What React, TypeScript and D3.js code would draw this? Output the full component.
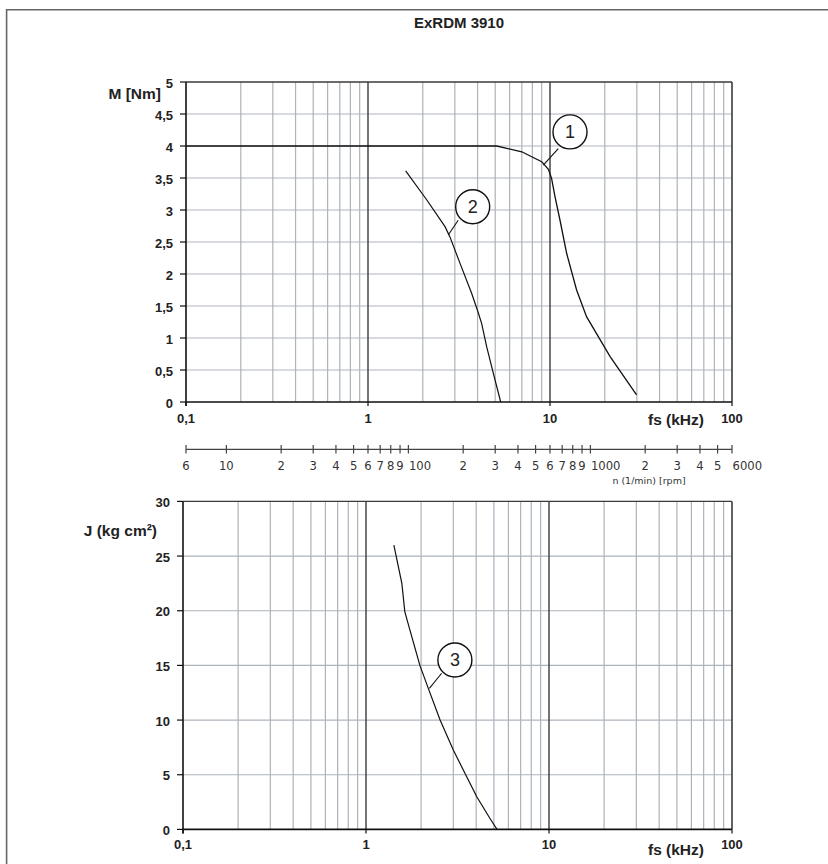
import React from "react";
import * as d3 from "d3";

// ---- data ----
const title = "ExRDM 3910";
const mTicks = [0, 0.5, 1, 1.5, 2, 2.5, 3, 3.5, 4, 4.5, 5];
const mTickLabels = ["0", "0,5", "1", "1,5", "2", "2,5", "3", "3,5", "4", "4,5", "5"];
const jTicks = [0, 5, 10, 15, 20, 25, 30];
const fsTicks = [0.1, 1, 10, 100];
const fsTickLabels = ["0,1", "1", "10", "100"];
const fsMinor = [0.2, 0.3, 0.4, 0.5, 0.6, 0.7, 0.8, 0.9, 2, 3, 4, 5, 6, 7, 8, 9, 20, 30, 40, 50, 60, 70, 80, 90];
const rpmValues = [6, 10, 20, 30, 40, 50, 60, 70, 80, 90, 100, 200, 300, 400, 500, 600, 700, 800, 900, 1000, 2000, 3000, 4000, 5000, 6000];
const rpmLabels = ["6", "10", "2", "3", "4", "5", "6", "7", "8", "9", "100", "2", "3", "4", "5", "6", "7", "8", "9", "1000", "2", "3", "4", "5", "6000"];

// curve 1 (pull-out torque)
const fs1 = [0.1, 5.1, 7.0, 9.0, 9.8, 10.2, 10.65, 11.35, 12.35, 14.0, 15.9, 21.4, 29.9];
const m1 = [4, 4, 3.91, 3.755, 3.636, 3.495, 3.21, 2.84, 2.32, 1.75, 1.33, 0.71, 0.11];
// curve 2 (pull-in torque)
const fs2 = [1.61, 2.1, 2.65, 2.82, 3.2, 3.71, 4.04, 4.21, 4.49, 4.88, 5.36];
const m2 = [3.61, 3.16, 2.74, 2.58, 2.17, 1.7, 1.39, 1.23, 0.86, 0.45, 0];
// curve 3 (load inertia)
const fs3 = [1.42, 1.57, 1.63, 1.74, 1.97, 2.19, 2.54, 3.0, 3.55, 4.03, 4.76, 5.2];
const j3 = [26.0, 22.5, 19.9, 18.2, 15.0, 12.9, 10.0, 7.26, 4.82, 2.99, 1.0, 0];

// callouts: label, circle centre (fs, value), leader start, leader end
const callLabels = ["1", "2", "3"];
const callCenter = [[12.88, 4.22], [3.76, 3.05], [3.06, 15.5]];
const callFrom = [[11.1, 3.96], [3.13, 2.84], [2.59, 14.28]];
const callTo = [[9.19, 3.7], [2.76, 2.61], [2.22, 12.9]];

export default function App() {
  const xTop = d3.scaleLog().domain([0.1, 100]).range([186, 732]);
  const yTop = d3.scaleLinear().domain([0, 5]).range([402, 82]);
  const xBot = d3.scaleLog().domain([0.1, 100]).range([183, 732]);
  const yBot = d3.scaleLinear().domain([0, 30]).range([829.4, 501.4]);
  const xRpm = d3.scaleLog().domain([6, 6000]).range([186, 732]);

  const grid = "#adb3bb";
  const dark = "#3a3a3a";
  const bold = "'Liberation Sans', Arial, sans-serif";

  const line = (xs: number[], ys: number[], xs_: any, ys_: any) =>
    d3.line<number>().x((_, i) => xs_(xs[i])).y((_, i) => ys_(ys[i]))(xs.map((_, i) => i)) || "";

  const panel = (
    x: any,
    y: any,
    yTicks: number[],
    yLabels: string[],
    yTitle: string,
    yTitleX: number,
    yTitleY: number,
    xLabelDy: number,
    fsTitleY: number,
    key: string
  ) => {
    const [x0, x1] = x.range();
    const [y0, y1] = y.range();
    return (
      <g key={key}>
        {fsMinor.map((v) => (
          <line key={"vm" + v} x1={x(v)} x2={x(v)} y1={y0} y2={y1} stroke={grid} strokeWidth={1.2} />
        ))}
        {yTicks.slice(1, -1).map((v) => (
          <line key={"hg" + v} x1={x0} x2={x1} y1={y(v)} y2={y(v)} stroke={grid} strokeWidth={1.2} />
        ))}
        {[1, 10].map((v) => (
          <line key={"vM" + v} x1={x(v)} x2={x(v)} y1={y0} y2={y1} stroke={dark} strokeWidth={1.4} />
        ))}
        <line x1={x0} x2={x1} y1={y1} y2={y1} stroke={dark} strokeWidth={1.4} />
        <line x1={x1} x2={x1} y1={y0} y2={y1} stroke={dark} strokeWidth={1.6} />
        <line x1={x0} x2={x0} y1={y0 + 4} y2={y1} stroke="#111" strokeWidth={1.6} />
        <line x1={x0} x2={x1} y1={y0} y2={y0} stroke="#111" strokeWidth={1.6} />
        {fsTicks.map((v) => (
          <line key={"xt" + v} x1={x(v)} x2={x(v)} y1={y0} y2={y0 + 4} stroke="#111" strokeWidth={1.2} />
        ))}
        {yTicks.map((v, i) => (
          <g key={"yt" + v}>
            <line x1={x0 - 6} x2={x0} y1={y(v)} y2={y(v)} stroke="#111" strokeWidth={1.2} />
            <text x={x0 - 13} y={y(v) + 5.7} textAnchor="end" fontFamily={bold} fontWeight="bold" fontSize={13} fill="#222">
              {yLabels[i]}
            </text>
          </g>
        ))}
        {fsTicks.map((v, i) => (
          <text key={"xl" + v} x={x(v)} y={y0 + xLabelDy} textAnchor="middle" fontFamily={bold} fontWeight="bold" fontSize={13} fill="#222">
            {fsTickLabels[i]}
          </text>
        ))}
        <text x={676} y={fsTitleY} textAnchor="middle" fontFamily={bold} fontWeight="bold" fontSize={15.5} fill="#222">
          fs (kHz)
        </text>
        <text x={yTitleX} y={yTitleY} textAnchor="end" fontFamily={bold} fontWeight="bold" fontSize={15.5} fill="#222">
          {yTitle}
        </text>
      </g>
    );
  };

  const callout = (i: number, x: any, y: any) => {
    const [cx, cy] = [x(callCenter[i][0]), y(callCenter[i][1])];
    return (
      <g key={"c" + i}>
        <line x1={x(callFrom[i][0])} y1={y(callFrom[i][1])} x2={x(callTo[i][0])} y2={y(callTo[i][1])} stroke="#111" strokeWidth={1.1} />
        <circle cx={cx} cy={cy} r={17} fill="#fff" stroke="#111" strokeWidth={1.4} />
        <text x={cx} y={cy + 6.5} textAnchor="middle" fontFamily={bold} fontSize={18} fill="#222">
          {callLabels[i]}
        </text>
      </g>
    );
  };

  return (
    <svg width={828} height={864} style={{ position: "absolute", left: 0, top: 0, background: "#fff" }}>
      <rect x={0} y={0} width={828} height={864} fill="#fff" />
      <line x1={6} x2={828} y1={9.8} y2={9.8} stroke="#666" strokeWidth={1.6} />
      <line x1={6.6} x2={6.6} y1={9} y2={864} stroke="#666" strokeWidth={1.6} />
      <text x={459} y={28} textAnchor="middle" fontFamily={bold} fontWeight="bold" fontSize={15} fill="#222">
        {title}
      </text>

      {panel(xTop, yTop, mTicks, mTickLabels, "M [Nm]", 161, 98.5, 20.5, 425, "top")}
      <path d={line(fs1, m1, xTop, yTop)} fill="none" stroke="#111" strokeWidth={1.3} />
      <path d={line(fs2, m2, xTop, yTop)} fill="none" stroke="#111" strokeWidth={1.2} />
      {callout(0, xTop, yTop)}
      {callout(1, xTop, yTop)}

      {/* rpm axis */}
      <line x1={xRpm(6)} x2={xRpm(6000)} y1={449.3} y2={449.3} stroke="#444" strokeWidth={1.2} />
      {rpmValues.map((v, i) => {
        const start = v === 100 || v === 1000 || v === 6000;
        return (
          <g key={"r" + i}>
            <line x1={xRpm(v)} x2={xRpm(v)} y1={445} y2={453.5} stroke="#444" strokeWidth={1.2} />
            <text
              x={start ? xRpm(v) + 0.5 : xRpm(v)}
              y={469.5}
              textAnchor={start ? "start" : "middle"}
              fontFamily="'DejaVu Sans', sans-serif"
              fontSize={11.6}
              fill="#333"
            >
              {rpmLabels[i]}
            </text>
          </g>
        );
      })}
      <text x={649} y={484} textAnchor="middle" fontFamily="'DejaVu Sans', sans-serif" fontSize={9.5} fill="#333">
        n (1/min) [rpm]
      </text>

      {panel(xBot, yBot, jTicks, jTicks.map(String), "J (kg cm²)", 157, 535.5, 20, 855, "bot")}
      <path d={line(fs3, j3, xBot, yBot)} fill="none" stroke="#111" strokeWidth={1.2} />
      {callout(2, xBot, yBot)}
    </svg>
  );
}
